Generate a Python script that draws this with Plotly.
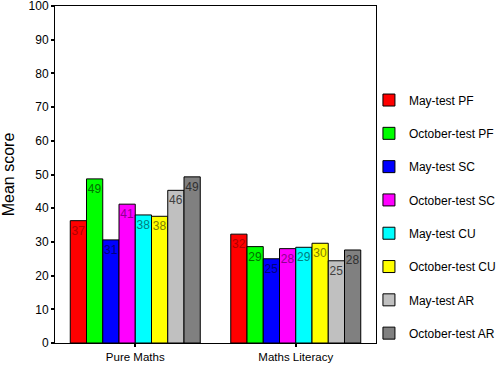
import plotly.graph_objects as go

categories = ["Pure Maths", "Maths Literacy"]
series_names = ["May-test PF", "October-test PF", "May-test SC", "October-test SC",
                "May-test CU", "October-test CU", "May-test AR", "October-test AR"]
pure_maths = [36.3, 48.7, 30.6, 41.2, 38.0, 37.6, 45.3, 49.3]
maths_literacy = [32.3, 28.6, 25.0, 28.0, 28.4, 29.6, 24.4, 27.6]
pure_labels = ["37", "49", "31", "41", "38", "38", "46", "49"]
literacy_labels = ["32", "29", "25", "28", "29", "30", "25", "28"]
y_ticks = [0, 10, 20, 30, 40, 50, 60, 70, 80, 90, 100]

colors = ["#ff0000", "#00ff00", "#0000ff", "#ff00ff", "#00ffff", "#ffff00", "#c0c0c0", "#808080"]
text_colors = ["#b00000", "#007000", "#000080", "#900090", "#008080", "#808000", "#404040", "#303030"]

fig = go.Figure()
for i, name in enumerate(series_names):
    fig.add_trace(go.Bar(
        name=name,
        x=categories,
        y=[pure_maths[i], maths_literacy[i]],
        text=[pure_labels[i], literacy_labels[i]],
        textposition="inside",
        insidetextanchor="end",
        textangle=0,
        constraintext="none",
        textfont=dict(color=text_colors[i], size=12, family="Liberation Sans, Arial"),
        marker=dict(color=colors[i], line=dict(color="#000000", width=1)),
        legendgroup=name,
    ))

fig.update_layout(
    width=504, height=372,
    margin=dict(l=55, r=128, t=6, b=29, autoexpand=False),
    paper_bgcolor="white", plot_bgcolor="white",
    barmode="group", bargap=0.19, bargroupgap=0,
    font=dict(family="Liberation Sans, Arial", size=11, color="#000000"),
    showlegend=True,
    legend=dict(
        x=0.978, xanchor="left", y=0.764, yanchor="top",
        tracegroupgap=14.3, itemwidth=30,
        font=dict(size=12, color="#000000"),
        bgcolor="rgba(0,0,0,0)",
        traceorder="grouped",
    ),
)
fig.update_yaxes(
    range=[0, 100], tickvals=y_ticks, showgrid=False, zeroline=False,
    showline=True, linecolor="#000000", linewidth=1, mirror=True,
    ticks="outside", ticklen=3, tickwidth=2, tickcolor="#000000",
    ticklabeloverflow="allow", tickfont=dict(size=12),
    title=dict(text="Mean score", font=dict(size=16), standoff=12),
)
fig.update_xaxes(
    showgrid=False, zeroline=False,
    showline=True, linecolor="#000000", linewidth=1, mirror=True,
    ticks="outside", ticklen=3, tickwidth=2, tickcolor="#000000",
    tickfont=dict(size=11.5),
)

fig.write_html("out.html")
